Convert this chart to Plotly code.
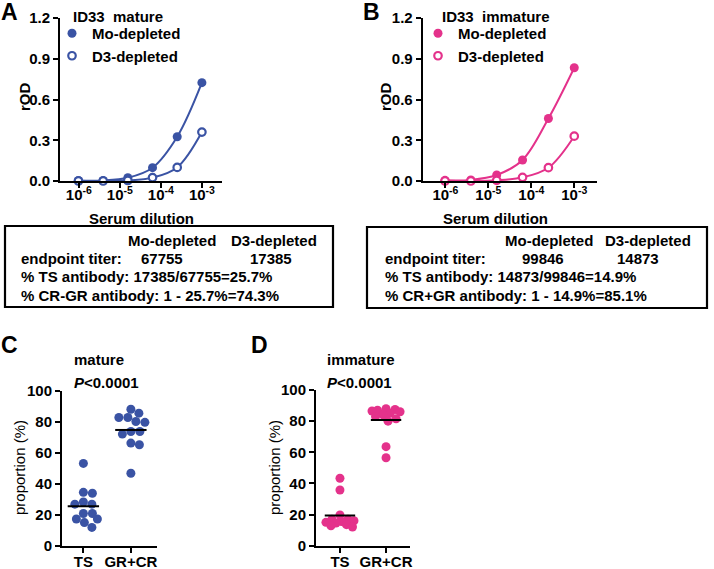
import numpy as np
import plotly.graph_objects as go

W, H = 714, 569
BLUE = "#3A53A4"
PINK = "#E4328B"
FONT = "Liberation Sans"

# ---------------- data ----------------
dilution = [1 / 1024000, 1 / 256000, 1 / 64000, 1 / 16000, 1 / 4000, 1 / 1000]
dil_ticks = [1e-6, 1e-5, 1e-4, 1e-3]
dil_ticktext = ["10<sup>-6</sup>", "10<sup>-5</sup>", "10<sup>-4</sup>", "10<sup>-3</sup>"]
od_ticks = [0.0, 0.3, 0.6, 0.9, 1.2]

mature_mo = [0.004, 0.004, 0.024, 0.098, 0.326, 0.724]
mature_d3 = [0.0, 0.0, 0.004, 0.025, 0.100, 0.360]
immature_mo = [0.005, 0.008, 0.044, 0.155, 0.460, 0.834]
immature_d3 = [0.0, 0.0, 0.005, 0.027, 0.098, 0.330]

categories = ["TS", "GR+CR"]
prop_ticks = [0, 20, 40, 60, 80, 100]
c_ts = [53.3, 34.6, 34.0, 28.4, 27.0, 27.0, 21.0, 21.0, 17.4, 17.4, 15.1, 12.0]
c_grcr = [88.2, 85.7, 82.9, 82.9, 80.3, 79.8, 73.9, 73.9, 72.2, 66.4, 65.3, 46.9]
d_ts = [43.3, 35.8, 19.7, 17.0, 17.0, 16.0, 15.5, 15.0, 14.5, 13.5, 12.8, 12.0]
d_grcr = [88.0, 87.5, 87.0, 86.5, 86.0, 85.0, 84.0, 83.0, 81.5, 80.0, 63.6, 56.5]

# ---------------- helpers ----------------
def px_x(v):
    return v / W


def px_y(v):
    return 1 - v / H


def swarm(vals, ypx, xpx, d, cap):
    """simple beeswarm: offsets (category units) so dots of diameter d do not overlap"""
    placed = []
    offs = [0.0] * len(vals)
    order = sorted(range(len(vals)), key=lambda i: -vals[i])
    cands = sorted(np.arange(-cap, cap + 0.01, 0.5), key=lambda c: (abs(c), -c))
    for i in order:
        y = vals[i] * ypx
        chosen, best_c, best_s = None, 0.0, -1
        for c in cands:
            md = min([np.hypot(c - px, y - py) for px, py in placed], default=1e9)
            if md >= d:
                chosen = c
                break
            if md > best_s:
                best_s, best_c = md, c
        if chosen is None:
            chosen = best_c
        placed.append((chosen, y))
        offs[i] = chosen / xpx
    return offs


fig = go.Figure()

# ---------------- panels A & B ----------------
def dose_panel(xa, ya, mo, d3, color, legend):
    for vals in (mo, d3):
        fig.add_trace(go.Scatter(
            x=dilution, y=vals, mode="lines", line=dict(color=color, width=2, shape="spline", smoothing=1.0),
            xaxis=xa, yaxis=ya, showlegend=False, cliponaxis=False, hoverinfo="skip"))
    for vals, name, open_ in ((mo, "Mo-depleted", False), (d3, "D3-depleted", True)):
        fig.add_trace(go.Scatter(
            x=dilution, y=vals, mode="markers", name=name,
            marker=dict(size=9 if not open_ else 7.5, color="white" if open_ else color,
                        symbol="circle", line=dict(color=color, width=2.2 if open_ else 0)),
            xaxis=xa, yaxis=ya, legend=legend, cliponaxis=False))


dose_panel("x", "y", mature_mo, mature_d3, BLUE, "legend")
dose_panel("x2", "y2", immature_mo, immature_d3, PINK, "legend2")

# ---------------- panels C & D ----------------
def dot_panel(xa, ya, groups, color, xpx, ypx):
    for k, vals in enumerate(groups):
        offs = swarm(vals, ypx, xpx, 8.6, 14)
        fig.add_trace(go.Scatter(
            x=[k + o for o in offs], y=vals, mode="markers",
            marker=dict(size=9, color=color), xaxis=xa, yaxis=ya,
            showlegend=False, cliponaxis=False))
        m = float(np.mean(vals))
        fig.add_trace(go.Scatter(
            x=[k - 0.33, k + 0.33], y=[m, m], mode="lines",
            line=dict(color="black", width=2), xaxis=xa, yaxis=ya,
            showlegend=False, hoverinfo="skip"))


dot_panel("x3", "y3", [c_ts, c_grcr], BLUE, 47.4, 1.55)
dot_panel("x4", "y4", [d_ts, d_grcr], PINK, 46.0, 1.557)

# ---------------- axes ----------------
base = dict(showline=True, linecolor="black", linewidth=2, ticks="outside", ticklen=5,
            tickwidth=2, tickcolor="black", showgrid=False, zeroline=False, automargin=False,
            tickfont=dict(family=FONT, size=15, color="black", weight="bold"))

yA_dom = [px_y(181), px_y(18)]
fig.update_layout(
    xaxis=dict(base, type="log", domain=[px_x(60), px_x(222)], range=[-6.46, -2.51],
               tickvals=dil_ticks, ticktext=dil_ticktext, anchor="y", ticklabelstandoff=-6),
    yaxis=dict(base, domain=yA_dom, range=[0, 1.2], tickvals=od_ticks, tickformat=".1f", anchor="x"),
    xaxis2=dict(base, type="log", domain=[px_x(422.7), px_x(597)], range=[-6.53, -2.47],
                tickvals=dil_ticks, ticktext=dil_ticktext, anchor="y2", ticklabelstandoff=-6),
    yaxis2=dict(base, domain=yA_dom, range=[0, 1.2], tickvals=od_ticks, tickformat=".1f", anchor="x2"),
    xaxis3=dict(base, domain=[px_x(62), px_x(157)], range=[-0.45, 1.55],
                tickvals=[0, 1], ticktext=categories, anchor="y3", ticklabelstandoff=-4),
    yaxis3=dict(base, domain=[px_y(546), px_y(391)], range=[0, 100], tickvals=prop_ticks, anchor="x3"),
    xaxis4=dict(base, domain=[px_x(316), px_x(410)], range=[-0.52, 1.52],
                tickvals=[0, 1], ticktext=categories, anchor="y4", ticklabelstandoff=-4),
    yaxis4=dict(base, domain=[px_y(545.7), px_y(390)], range=[0, 100], tickvals=prop_ticks, anchor="x4"),
)

leg = dict(font=dict(family=FONT, size=15, color="black", weight="bold"), bgcolor="rgba(0,0,0,0)",
           xanchor="left", yanchor="top", tracegroupgap=0, itemwidth=30)
fig.update_layout(
    legend=dict(leg, x=px_x(52), y=px_y(17)),
    legend2=dict(leg, x=px_x(418), y=px_y(17)),
)

# ---------------- text ----------------
ann = []


def txt(x, y, s, size=15, bold=True, xanchor="left", angle=0):
    ann.append(dict(x=px_x(x), y=px_y(y), xref="paper", yref="paper", text=s, showarrow=False,
                    xanchor=xanchor, yanchor="middle", textangle=angle,
                    font=dict(family=FONT, size=size, color="black", weight="bold" if bold else "normal")))


# panel letters
txt(-1, 12, "A", 23)
txt(361, 12, "B", 23)
txt(-1, 345, "C", 23)
txt(249, 345, "D", 23)

# panel A/B titles
txt(71, 16, "ID33  mature")
txt(440, 16, "ID33  immature")
txt(24, 97, "rOD", xanchor="center", angle=-90)
txt(385, 97, "rOD", xanchor="center", angle=-90)
txt(141, 218, "Serum dilution", xanchor="center")
txt(495, 218, "Serum dilution", xanchor="center")

# tables
txt(126, 240, "Mo-depleted")
txt(229, 240, "D3-depleted")
txt(19, 259, "endpoint titer:")
txt(139, 259, "67755")
txt(248, 259, "17385")
txt(19, 277, "% TS antibody: 17385/67755=25.7%")
txt(19, 295.5, "% CR-GR antibody: 1 - 25.7%=74.3%")

txt(503, 240, "Mo-depleted")
txt(603, 240, "D3-depleted")
txt(383, 259, "endpoint titer:")
txt(520, 259, "99846")
txt(615, 259, "14873")
txt(383, 277, "% TS antibody: 14873/99846=14.9%")
txt(383, 295.5, "% CR+GR antibody: 1 - 14.9%=85.1%")

# panel C/D titles
txt(72, 359, "mature")
txt(72, 382, "<i>P</i>&lt;0.0001")
txt(325, 359, "immature")
txt(325, 382, "<i>P</i>&lt;0.0001")
txt(20, 468, "proportion (%)", bold=False, angle=-90, xanchor="center")
txt(275, 468, "proportion (%)", bold=False, angle=-90, xanchor="center")

shapes = [
    dict(type="rect", xref="paper", yref="paper", x0=px_x(5), x1=px_x(333), y0=px_y(307), y1=px_y(226),
         line=dict(color="black", width=2.2)),
    dict(type="rect", xref="paper", yref="paper", x0=px_x(367), x1=px_x(707), y0=px_y(308), y1=px_y(227),
         line=dict(color="black", width=2.2)),
]

fig.update_layout(
    width=W, height=H, margin=dict(l=0, r=0, t=0, b=0, autoexpand=False),
    paper_bgcolor="white", plot_bgcolor="white",
    annotations=ann, shapes=shapes, showlegend=True,
    font=dict(family=FONT, color="black"),
)

fig.write_html("out.html", config={"displayModeBar": False},
               post_script="document.body.style.margin='0px';document.body.style.overflow='hidden';")
